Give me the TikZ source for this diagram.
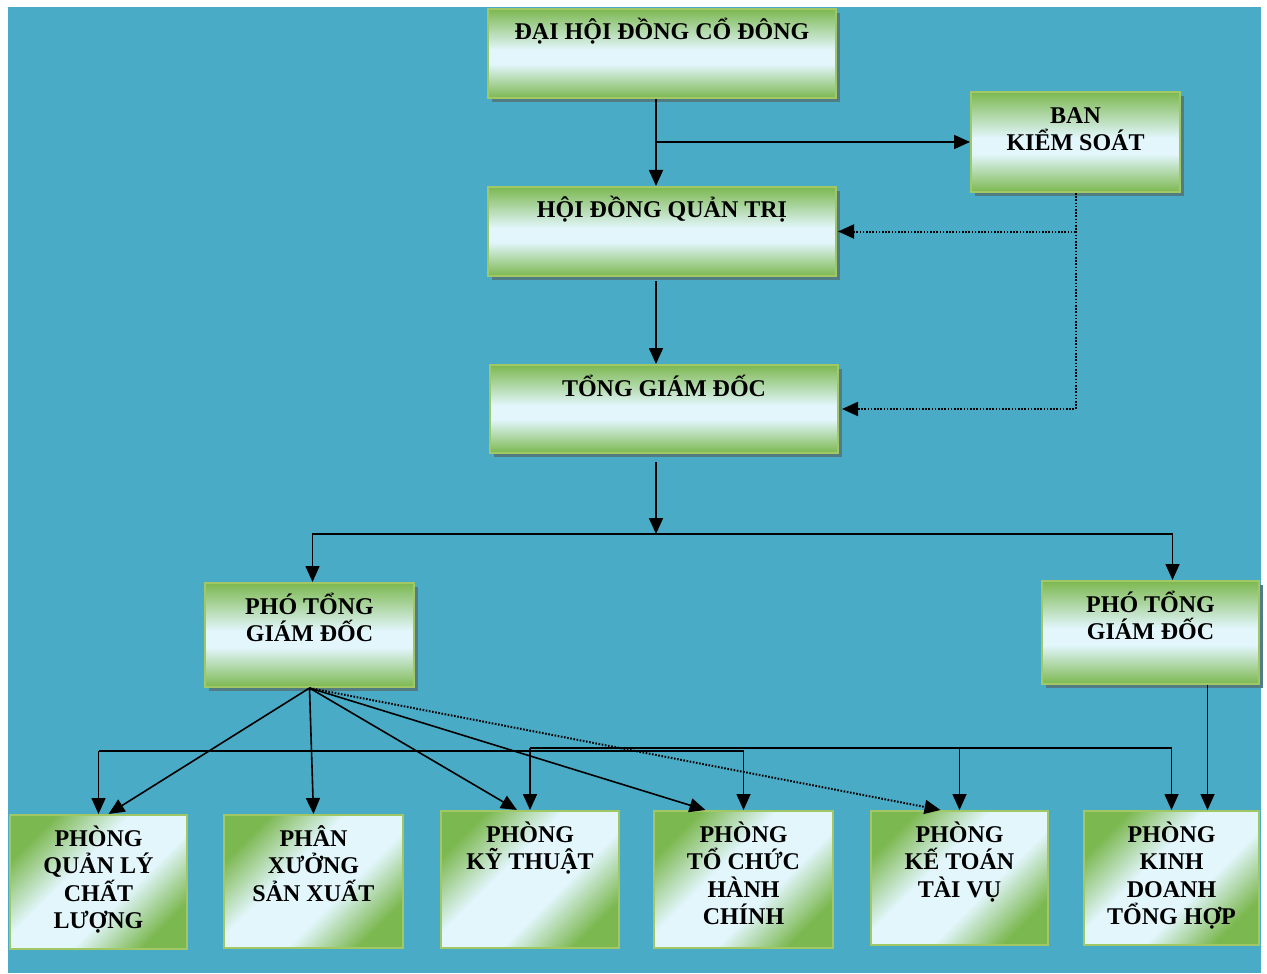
\documentclass[tikz,border=0pt]{standalone}
\usepackage{fontspec}
\setmainfont{Liberation Serif}
\usetikzlibrary{arrows.meta,shadows}
\definecolor{sea}{HTML}{4AABC6}
\definecolor{leaf}{HTML}{7CB850}
\definecolor{ice}{HTML}{E2F6FC}
\definecolor{rim}{HTML}{A2C765}
\definecolor{dropgray}{HTML}{507C82}
\pgfdeclareverticalshading{headfade}{100bp}{color(0bp)=(leaf); color(25bp)=(leaf); color(44bp)=(ice); color(52bp)=(ice); color(75bp)=(leaf); color(100bp)=(leaf)}
\pgfdeclareverticalshading{deptfade}{100bp}{color(0bp)=(leaf); color(25bp)=(leaf); color(41bp)=(ice); color(58bp)=(ice); color(75bp)=(leaf); color(100bp)=(leaf)}
\tikzset{
  box/.style={draw=rim, line width=1pt, inner sep=0pt, align=center, anchor=north west,
    font=\fontsize{12}{13.8}\selectfont\bfseries},
  headbox/.style={box, shading=headfade,
    drop shadow={shadow xshift=2pt, shadow yshift=-2pt, fill=dropgray, opacity=1}},
  deptbox/.style={box, shading=deptfade, shading angle=45},
  % text height reaches down to the last baseline
  lines1/.style={text height=15.5pt},
  lines2/.style={text height=29.3pt},
  lines3/.style={text height=43.1pt},
  lines4/.style={text height=56.9pt},
  arr/.style={-{Triangle[length=8pt,width=7pt]}, line width=0.8pt},
  checkline/.style={arr, line width=1pt, dash pattern=on 0.8pt off 0.8pt}
}
\begin{document}
\begin{tikzpicture}[x=0.5pt,y=-0.5pt]
  \useasboundingbox (0,0) rectangle (1267,973);
  \fill[white] (0,0) rectangle (1267,973);
  \fill[sea] (8,7) rectangle (1261,973);
  % upper levels
  \node[headbox, lines1, minimum width=174pt, text depth=29pt] (dhdcd) at (487,8) {ĐẠI HỘI ĐỒNG CỔ ĐÔNG};
  \node[headbox, lines2, minimum width=104.5pt, text depth=20.7pt] (bks) at (970,91) {BAN\\KIỂM SOÁT};
  \node[headbox, lines1, minimum width=174pt, text depth=29pt] (hdqt) at (487,186) {HỘI ĐỒNG QUẢN TRỊ};
  \node[headbox, lines1, minimum width=174pt, text depth=28.5pt] (tgd) at (489,364) {TỔNG GIÁM ĐỐC};
  \node[headbox, lines2, minimum width=104.5pt, text depth=22.7pt] (ptgdL) at (204,582) {PHÓ TỔNG\\GIÁM ĐỐC};
  \node[headbox, lines2, minimum width=108.5pt, text depth=22.2pt] (ptgdR) at (1041,580) {PHÓ TỔNG\\GIÁM ĐỐC};
  % departments
  \node[deptbox, lines4, minimum width=88.5pt, text depth=10.1pt] (qlcl) at (9,814) {PHÒNG\\QUẢN LÝ\\CHẤT\\LƯỢNG};
  \node[deptbox, lines3, minimum width=89.5pt, text depth=23.4pt] (pxsx) at (223,814) {PHÂN\\XƯỞNG\\SẢN XUẤT};
  \node[deptbox, lines2, minimum width=89pt, text depth=39.2pt] (kt) at (440,810) {PHÒNG\\KỸ THUẬT};
  \node[deptbox, lines4, minimum width=89.5pt, text depth=11.6pt] (tchc) at (653,810) {PHÒNG\\TỔ CHỨC\\HÀNH\\CHÍNH};
  \node[deptbox, lines3, minimum width=88.5pt, text depth=23.9pt] (kttv) at (870,810) {PHÒNG\\KẾ TOÁN\\TÀI VỤ};
  \node[deptbox, lines4, minimum width=87.5pt, text depth=10.1pt] (kdth) at (1083,810) {PHÒNG\\KINH\\DOANH\\TỔNG HỢP};
  % top connectors
  \coordinate (trunk) at (656,0);
  \draw[arr] (trunk |- dhdcd.south) -- (trunk |- hdqt.north);
  \draw[arr] (trunk |- bks.west) -- (bks.west);
  \draw[checkline] (bks.south) |- ([xshift=1.5pt]tgd.east);
  \draw[checkline] (bks.south |- hdqt.east) -- ([xshift=0.5pt]hdqt.east);
  \draw[arr] ([yshift=-2pt]trunk |- hdqt.south) -- (trunk |- tgd.north);
  \coordinate (fork) at (656,534);
  \draw[arr] ([yshift=-4pt]trunk |- tgd.south) -- (fork);
  \draw[arr] (fork) -| ([xshift=1.5pt]ptgdL.north);
  \draw[arr] (fork) -| ([xshift=11pt]ptgdR.north);
  % deputy to departments
  \draw[arr] (ptgdL.south) -- ([xshift=5pt]qlcl.north);
  \draw[arr] (ptgdL.south) -- (pxsx.north);
  \draw[arr] (ptgdL.south) -- ([xshift=-6.5pt]kt.north);
  \draw[arr] (ptgdL.south) -- ([xshift=-19pt]tchc.north);
  \draw[checkline] (ptgdL.south) -- ([xshift=-9.5pt]kttv.north);
  \draw[arr] ([xshift=18pt]kdth.north |- ptgdR.south) -- ([xshift=18pt]kdth.north);
  % department bus
  \coordinate (busL) at (0,751);
  \coordinate (busR) at (0,748);
  \draw[line width=0.8pt] (qlcl.north |- busL) -- (tchc.north |- busL);
  \draw[line width=0.8pt] (kt.north |- busR) -- (kdth.north |- busR);
  \foreach \n in {qlcl,tchc} \draw[arr] (\n.north |- busL) -- (\n.north);
  \foreach \n in {kt,kttv,kdth} \draw[arr] (\n.north |- busR) -- (\n.north);
\end{tikzpicture}
\end{document}
